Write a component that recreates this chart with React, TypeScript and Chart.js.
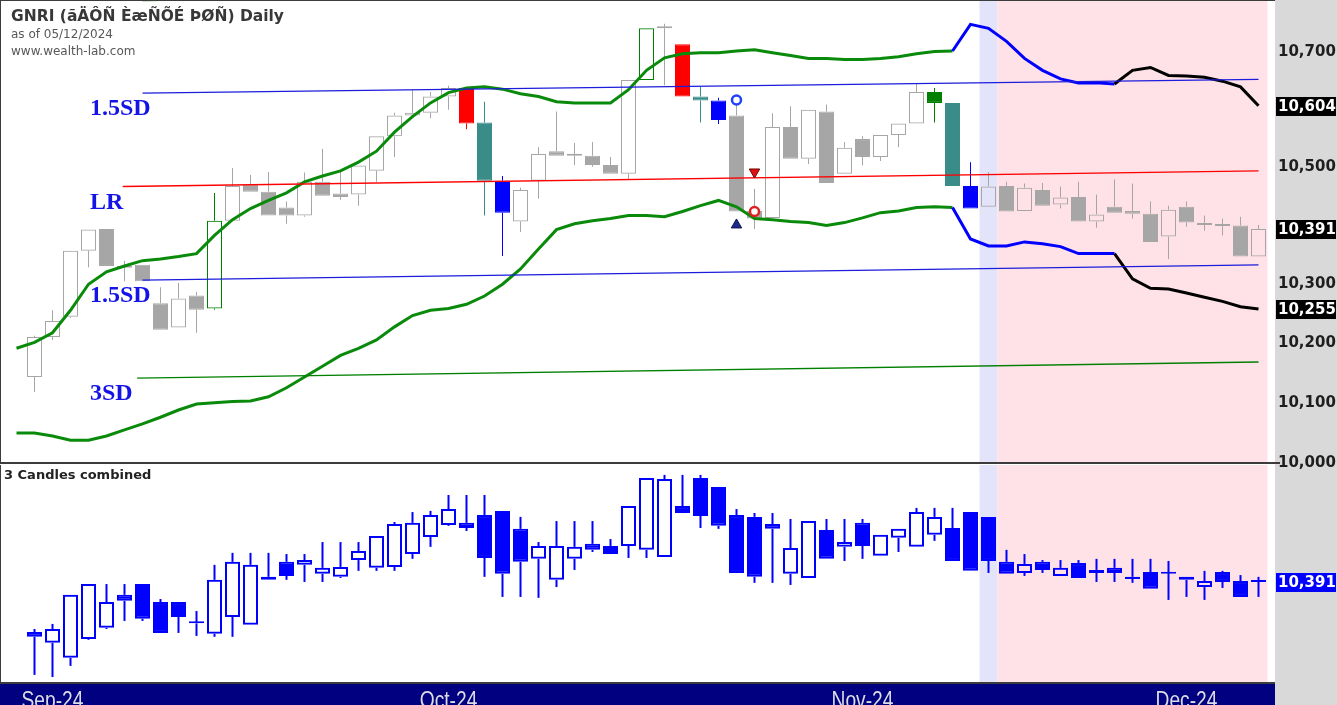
import React, { useEffect, useRef } from 'react';
import { Chart, registerables } from 'chart.js';

Chart.register(...registerables);

// ---------- main pane: daily bars (index = bar slot, slot 0 has no bar) ----------
const openP = [null, 10141, 10208, 10242, 10354, 10391, 10328, 10330, 10265, 10224, 10278, 10256, 10405, 10467, 10455, 10428, 10414, 10472, 10452, 10450, 10491, 10551, 10587, 10592, 10620, 10635, 10575, 10474, 10404, 10474, 10525, 10517, 10517, 10501, 10486, 10649, 10740, 10712, 10620, 10613, 10587, 10422, 10410, 10567, 10512, 10594, 10486, 10546, 10515, 10553, 10573, 10628, 10609, 10465, 10429, 10465, 10422, 10458, 10433, 10446, 10404, 10429, 10422, 10417, 10378, 10429, 10398, 10397, 10397, 10344];
const highP = [null, 10210, 10253, 10354, 10390, 10391, 10337, 10330, 10292, 10299, 10284, 10453, 10496, 10484, 10489, 10438, 10488, 10529, 10491, 10500, 10551, 10592, 10632, 10628, 10639, 10635, 10611, 10482, 10462, 10532, 10594, 10539, 10541, 10515, 10649, 10740, 10748, 10712, 10637, 10618, 10606, 10460, 10591, 10603, 10597, 10606, 10541, 10551, 10553, 10573, 10644, 10635, 10609, 10506, 10489, 10472, 10469, 10470, 10464, 10472, 10450, 10476, 10469, 10438, 10431, 10438, 10414, 10409, 10412, 10398];
const lowP = [null, 10116, 10203, 10240, 10326, 10328, 10302, 10302, 10220, 10224, 10215, 10254, 10405, 10455, 10414, 10400, 10412, 10448, 10441, 10431, 10472, 10515, 10587, 10582, 10597, 10563, 10414, 10345, 10386, 10443, 10517, 10501, 10498, 10486, 10477, 10649, 10640, 10620, 10575, 10572, 10421, 10391, 10410, 10512, 10503, 10470, 10486, 10500, 10508, 10532, 10573, 10575, 10465, 10426, 10429, 10421, 10422, 10431, 10426, 10404, 10393, 10419, 10409, 10369, 10340, 10395, 10388, 10380, 10344, 10344];
const closeP = [null, 10208, 10235, 10354, 10390, 10328, 10325, 10302, 10220, 10273, 10254, 10405, 10465, 10455, 10414, 10414, 10472, 10448, 10446, 10500, 10551, 10587, 10592, 10620, 10635, 10573, 10474, 10419, 10458, 10520, 10517, 10517, 10501, 10486, 10649, 10740, 10740, 10620, 10613, 10579, 10421, 10409, 10567, 10512, 10597, 10470, 10531, 10515, 10553, 10573, 10628, 10609, 10465, 10426, 10464, 10421, 10462, 10431, 10445, 10404, 10416, 10419, 10417, 10369, 10424, 10402, 10398, 10396, 10344, 10391];

// highlighted candle patterns
const greenBars = [11, 35, 51];
const redBars = [25, 37];
const tealBars = [26, 38, 52];
const blueBars = [27, 39, 53];

// envelope bands (green history, blue projection, black forecast)
const upperBand = [10189, 10199, 10215, 10253, 10297, 10318, 10328, 10337, 10340, 10344, 10349, 10380, 10407, 10426, 10440, 10453, 10472, 10482, 10491, 10506, 10525, 10558, 10585, 10609, 10627, 10635, 10637, 10633, 10625, 10620, 10611, 10609, 10609, 10609, 10632, 10666, 10688, 10695, 10697, 10697, 10700, 10702, 10697, 10692, 10687, 10687, 10685, 10685, 10687, 10690, 10695, 10699, 10700, 10747, 10740, 10717, 10687, 10666, 10651, 10644, 10644, 10642, 10666, 10671, 10657, 10656, 10654, 10647, 10637, 10604];
const lowerBand = [10048, 10048, 10043, 10036, 10036, 10043, 10053, 10063, 10074, 10086, 10096, 10098, 10100, 10101, 10108, 10123, 10141, 10159, 10177, 10189, 10203, 10225, 10244, 10253, 10256, 10263, 10277, 10297, 10323, 10357, 10390, 10400, 10405, 10409, 10414, 10414, 10412, 10421, 10431, 10440, 10429, 10409, 10407, 10404, 10402, 10397, 10402, 10410, 10419, 10422, 10428, 10429, 10428, 10374, 10362, 10362, 10369, 10366, 10361, 10349, 10349, 10349, 10306, 10290, 10289, 10282, 10275, 10268, 10259, 10255];
const projFrom = 52;
const blackFrom = 61;

// linear regression channel
const lrNames = ['3SD', '1.5SD', 'LR', '1.5SD', '3SD'];
const lrStartBar = [7, 7, 5.9, 7, 6.7];
const lrEndBar = [69, 69, 69, 69, 69];
const lrStartValue = [10789, 10626, 10464, 10304, 10139];
const lrEndValue = [10816, 10650, 10491, 10330, 10166];

// signals
const circleBars = [40, 41];
const circleValues = [10614, 10421];
const triUpBars = [40];
const triUpValues = [10398];
const triDownBars = [41];
const triDownValues = [10489];

// ---------- lower pane: 3 candles combined ----------
const open3 = [null, 10224, 10188, 10138, 10201, 10238, 10348, 10384, 10324, 10324, 10256, 10218, 10274, 10248, 10398, 10458, 10448, 10418, 10408, 10464, 10438, 10441, 10484, 10541, 10581, 10588, 10614, 10628, 10568, 10468, 10398, 10468, 10518, 10511, 10511, 10498, 10474, 10644, 10738, 10708, 10614, 10608, 10584, 10418, 10404, 10564, 10508, 10588, 10478, 10538, 10508, 10548, 10571, 10624, 10608, 10458, 10421, 10458, 10411, 10454, 10431, 10438, 10401, 10424, 10418, 10408, 10374, 10424, 10394, 10393];
const high3 = [null, 10234, 10251, 10348, 10384, 10384, 10384, 10384, 10334, 10324, 10294, 10448, 10488, 10488, 10488, 10484, 10484, 10524, 10524, 10524, 10544, 10591, 10624, 10628, 10681, 10681, 10681, 10628, 10608, 10524, 10594, 10594, 10594, 10534, 10644, 10738, 10748, 10748, 10748, 10708, 10634, 10621, 10621, 10601, 10594, 10601, 10601, 10601, 10548, 10568, 10638, 10638, 10638, 10624, 10608, 10498, 10484, 10464, 10464, 10464, 10468, 10468, 10468, 10468, 10461, 10408, 10428, 10428, 10414, 10408];
const low3 = [null, 10081, 10074, 10111, 10198, 10234, 10261, 10261, 10221, 10221, 10211, 10208, 10208, 10248, 10398, 10398, 10391, 10391, 10404, 10428, 10428, 10428, 10468, 10508, 10578, 10561, 10408, 10341, 10341, 10338, 10374, 10431, 10491, 10484, 10471, 10471, 10474, 10621, 10571, 10568, 10421, 10388, 10388, 10381, 10404, 10468, 10461, 10468, 10478, 10491, 10508, 10528, 10461, 10428, 10421, 10418, 10411, 10421, 10411, 10404, 10391, 10391, 10388, 10368, 10331, 10341, 10331, 10371, 10341, 10341];
const close3 = [null, 10208, 10234, 10348, 10384, 10324, 10328, 10268, 10221, 10274, 10253, 10398, 10458, 10448, 10408, 10411, 10464, 10438, 10441, 10494, 10544, 10584, 10588, 10614, 10634, 10571, 10471, 10418, 10458, 10511, 10511, 10508, 10498, 10484, 10644, 10738, 10734, 10621, 10611, 10578, 10421, 10408, 10568, 10504, 10594, 10468, 10524, 10511, 10548, 10568, 10624, 10608, 10461, 10428, 10461, 10418, 10451, 10431, 10438, 10404, 10421, 10421, 10408, 10368, 10418, 10398, 10394, 10391, 10341, 10391];

// axes
const priceTicks = [10000, 10100, 10200, 10300, 10500, 10700];
const monthLabels = ['Sep-24', 'Oct-24', 'Nov-24', 'Dec-24'];
const monthBars = [2, 24, 47, 65];
const lavenderBar = 54;
const pinkFirst = 55;
const pinkLast = 69;

// ---------- layout / style constants ----------
const X_MIN = -0.9167;
const X_MAX = 69.9167;
const AXIS_W = 62;
const GRAY = '#a6a6a6';
const AXIS_FONT = 'bold 15px "DejaVu Sans", sans-serif';

function fmt(v: number) {
  return Math.round(v).toLocaleString('en-US');
}

function mainColor(i: number) {
  if (greenBars.includes(i)) return '#008000';
  if (redBars.includes(i)) return '#ff0000';
  if (tealBars.includes(i)) return '#3a8c88';
  if (blueBars.includes(i)) return '#0000ff';
  return GRAY;
}

function candleDatasets(o: any[], h: any[], l: any[], c: any[], colorOf: (i: number) => string, border: number, wick: number) {
  const idx = o.map((v, i) => (v == null ? -1 : i)).filter((i) => i >= 0);
  const col = idx.map(colorOf);
  const fill = idx.map((i, k) => (c[i] >= o[i] ? 'rgba(0,0,0,0)' : col[k]));
  const common = { grouped: false, inflateAmount: 0 } as any;
  return [
    { ...common, type: 'bar', data: idx.map((i) => ({ x: i, y: [Math.max(o[i], c[i]), h[i]] })), backgroundColor: col, borderWidth: 0, barThickness: wick, order: 6 },
    { ...common, type: 'bar', data: idx.map((i) => ({ x: i, y: [l[i], Math.min(o[i], c[i])] })), backgroundColor: col, borderWidth: 0, barThickness: wick, order: 6 },
    { ...common, type: 'bar', data: idx.map((i) => ({ x: i, y: [o[i], c[i]] })), backgroundColor: fill, borderColor: col, borderWidth: border, borderSkipped: false, barThickness: 15, minBarLength: 2, order: 5 },
  ];
}

function shade(chart: any) {
  const { ctx, chartArea, scales } = chart;
  const x = scales.x;
  const a = x.getPixelForValue(lavenderBar - 0.5);
  const b = x.getPixelForValue(pinkFirst - 0.5);
  const e = x.getPixelForValue(pinkLast + 0.5);
  ctx.save();
  ctx.fillStyle = '#e3e3fa';
  ctx.fillRect(a, chartArea.top, b - a, chartArea.bottom - chartArea.top);
  ctx.fillStyle = '#ffe2e7';
  ctx.fillRect(b, chartArea.top, e - b, chartArea.bottom - chartArea.top);
  ctx.restore();
}

function valueBox(ctx: CanvasRenderingContext2D, x: number, y: number, text: string, bg: string) {
  ctx.fillStyle = bg;
  ctx.fillRect(x + 1, Math.round(y - 9), 60, 19);
  ctx.fillStyle = '#ffffff';
  ctx.font = AXIS_FONT;
  ctx.textAlign = 'left';
  ctx.textBaseline = 'middle';
  ctx.fillText(text, x + 3, y + 1.5);
}

function mainConfig(): any {
  const bandSegment = {
    borderColor: (ctx: any) => (ctx.p0DataIndex >= blackFrom ? '#000000' : ctx.p0DataIndex >= projFrom ? '#0000ff' : '#0a8a0a'),
  };
  const lrColors = ['#008000', '#1c1cdc', '#ff0000', '#1c1cdc', '#008000'];
  const datasets: any[] = [
    ...candleDatasets(openP, highP, lowP, closeP, mainColor, 1, 1),
    { type: 'line', data: upperBand.map((v, i) => ({ x: i, y: v })), borderColor: '#0a8a0a', borderWidth: 3, pointRadius: 0, segment: bandSegment, order: 3 },
    { type: 'line', data: lowerBand.map((v, i) => ({ x: i, y: v })), borderColor: '#0a8a0a', borderWidth: 3, pointRadius: 0, segment: bandSegment, order: 3 },
    ...lrNames.map((_, k) => ({
      type: 'line',
      data: [{ x: lrStartBar[k], y: lrStartValue[k] }, { x: lrEndBar[k], y: lrEndValue[k] }],
      borderColor: lrColors[k], borderWidth: 1.3, pointRadius: 0, order: 2,
    })),
    { type: 'line', showLine: false, data: circleBars.map((b, k) => ({ x: b, y: circleValues[k] })), pointStyle: 'circle', pointRadius: 4.5, pointBorderWidth: 2.5, pointBorderColor: ['#2040ff', '#e02020'], pointBackgroundColor: '#ffffff', order: 0 },
    { type: 'line', showLine: false, data: triUpBars.map((b, k) => ({ x: b, y: triUpValues[k] })), pointStyle: 'triangle', pointRadius: 6, pointBorderWidth: 1, pointBorderColor: '#10104a', pointBackgroundColor: '#1a2a8c', order: 0 },
    { type: 'line', showLine: false, data: triDownBars.map((b, k) => ({ x: b, y: triDownValues[k] })), pointStyle: 'triangle', pointRotation: 180, pointRadius: 6, pointBorderWidth: 1, pointBorderColor: '#700000', pointBackgroundColor: '#e01010', order: 0 },
  ];
  const plugin = {
    id: 'mainDecor',
    beforeDraw(chart: any) {
      const { ctx, chartArea, width } = chart;
      ctx.save();
      ctx.fillStyle = '#ffffff';
      ctx.fillRect(0, 0, chartArea.right, chartArea.bottom);
      ctx.fillStyle = '#d9d9d9';
      ctx.fillRect(chartArea.right, 0, width - chartArea.right, chartArea.bottom + 2);
      ctx.restore();
    },
    beforeDatasetsDraw(chart: any) {
      shade(chart);
    },
    afterDraw(chart: any) {
      const { ctx, chartArea, scales } = chart;
      const y = scales.y;
      const x = scales.x;
      ctx.save();
      // frame
      ctx.fillStyle = '#3c3c3c';
      ctx.fillRect(0, 0, chartArea.right, 1);
      ctx.fillRect(0, 0, 1, chartArea.bottom);
      ctx.fillRect(0, chartArea.bottom - 1, chartArea.right + 5, 2);
      // title
      ctx.textAlign = 'left';
      ctx.textBaseline = 'middle';
      ctx.fillStyle = '#383838';
      ctx.font = 'bold 15.5px "DejaVu Sans", sans-serif';
      ctx.fillText('GNRI (ãÄÔÑ ÈæÑÕÉ ÞØÑ) Daily', 11, 17);
      ctx.fillStyle = '#585858';
      ctx.font = '12px "DejaVu Sans", sans-serif';
      ctx.fillText('as of 05/12/2024', 11, 35);
      ctx.fillText('www.wealth-lab.com', 11, 52);
      // channel labels
      ctx.fillStyle = '#1414e6';
      ctx.font = 'bold 24px "Liberation Serif", "DejaVu Serif", serif';
      for (let k = 1; k < lrNames.length; k++) {
        ctx.fillText(lrNames[k], x.getPixelForValue(4.08), y.getPixelForValue(lrStartValue[k]) + 16);
      }
      // axis labels
      ctx.fillStyle = '#1e1e1e';
      ctx.font = AXIS_FONT;
      for (const t of priceTicks) {
        ctx.fillText(fmt(t), chartArea.right + 3, y.getPixelForValue(t) + 1.5);
      }
      const last = closeP.length - 1;
      valueBox(ctx, chartArea.right, y.getPixelForValue(upperBand[last]), fmt(upperBand[last]), '#000000');
      valueBox(ctx, chartArea.right, y.getPixelForValue(closeP[last] as number), fmt(closeP[last] as number), '#000000');
      valueBox(ctx, chartArea.right, y.getPixelForValue(lowerBand[last]), fmt(lowerBand[last]), '#000000');
      ctx.restore();
    },
  };
  return {
    type: 'bar',
    data: { datasets },
    options: {
      animation: false,
      responsive: false,
      devicePixelRatio: 1,
      layout: { autoPadding: false, padding: { left: 0, right: 0, top: 0, bottom: 12 } },
      plugins: { legend: { display: false }, tooltip: { enabled: false } },
      scales: {
        x: { type: 'linear', min: X_MIN, max: X_MAX, display: false, offset: false, grid: { offset: false } },
        y: {
          type: 'logarithmic', position: 'right', min: 9998.4, max: 10790.2,
          grid: { display: false }, border: { display: false }, ticks: { display: false },
          afterFit: (s: any) => { s.width = AXIS_W; },
        },
      },
    },
    plugins: [plugin],
  };
}

function lowConfig(): any {
  const datasets: any[] = [...candleDatasets(open3, high3, low3, close3, () => '#0000ff', 2, 2)];
  const plugin = {
    id: 'lowDecor',
    beforeDraw(chart: any) {
      const { ctx, chartArea, width, height } = chart;
      ctx.save();
      ctx.fillStyle = '#ffffff';
      ctx.fillRect(0, 0, chartArea.right, chartArea.bottom);
      ctx.fillStyle = '#d9d9d9';
      ctx.fillRect(chartArea.right, 0, width - chartArea.right, height);
      ctx.fillStyle = '#000080';
      ctx.fillRect(0, chartArea.bottom, chartArea.right, height - chartArea.bottom);
      ctx.restore();
    },
    beforeDatasetsDraw(chart: any) {
      shade(chart);
    },
    afterDraw(chart: any) {
      const { ctx, chartArea, scales } = chart;
      const x = scales.x;
      const y = scales.y;
      ctx.save();
      ctx.fillStyle = '#3c3c3c';
      ctx.fillRect(0, 0, 1, chartArea.bottom);
      ctx.fillRect(0, chartArea.bottom - 1, chartArea.right, 2);
      ctx.textAlign = 'left';
      ctx.textBaseline = 'middle';
      ctx.fillStyle = '#222222';
      ctx.font = 'bold 13px "DejaVu Sans", sans-serif';
      ctx.fillText('3 Candles combined', 4, 11);
      // month labels (tall, narrow, cut by the page edge)
      ctx.fillStyle = '#dcdce4';
      ctx.font = '24px "Liberation Sans", Arial, sans-serif';
      ctx.textAlign = 'center';
      ctx.textBaseline = 'top';
      monthLabels.forEach((m, k) => {
        const px = x.getPixelForValue(monthBars[k]);
        ctx.save();
        ctx.translate(px, chartArea.bottom + 6);
        ctx.scale(0.8, 1);
        ctx.fillText(m, 0, 0);
        ctx.restore();
      });
      const last = close3.length - 1;
      valueBox(ctx, chartArea.right, y.getPixelForValue(close3[last] as number), fmt(close3[last] as number), '#0000ff');
      ctx.restore();
    },
  };
  return {
    type: 'bar',
    data: { datasets },
    options: {
      animation: false,
      responsive: false,
      devicePixelRatio: 1,
      layout: { autoPadding: false, padding: 0 },
      plugins: { legend: { display: false }, tooltip: { enabled: false } },
      scales: {
        x: {
          type: 'linear', min: X_MIN, max: X_MAX, offset: false,
          grid: { display: false, offset: false }, border: { display: false }, ticks: { display: false },
          afterFit: (s: any) => { s.height = 22; },
        },
        y: {
          position: 'right', min: 10054, max: 10781,
          grid: { display: false }, border: { display: false }, ticks: { display: false },
          afterFit: (s: any) => { s.width = AXIS_W; },
        },
      },
    },
    plugins: [plugin],
  };
}

export default function App() {
  const mainRef = useRef<HTMLCanvasElement>(null);
  const lowRef = useRef<HTMLCanvasElement>(null);
  useEffect(() => {
    const m = new Chart(mainRef.current as HTMLCanvasElement, mainConfig());
    const l = new Chart(lowRef.current as HTMLCanvasElement, lowConfig());
    return () => {
      m.destroy();
      l.destroy();
    };
  }, []);
  return (
    <div style={{ position: 'absolute', left: 0, top: 0, width: 1337, height: 705, background: '#ffffff', overflow: 'hidden' }}>
      <canvas ref={lowRef} width={1337} height={240} style={{ position: 'absolute', left: 0, top: 465, width: 1337, height: 240, zIndex: 1 }} />
      <canvas ref={mainRef} width={1337} height={475} style={{ position: 'absolute', left: 0, top: 0, width: 1337, height: 475, zIndex: 2 }} />
    </div>
  );
}
